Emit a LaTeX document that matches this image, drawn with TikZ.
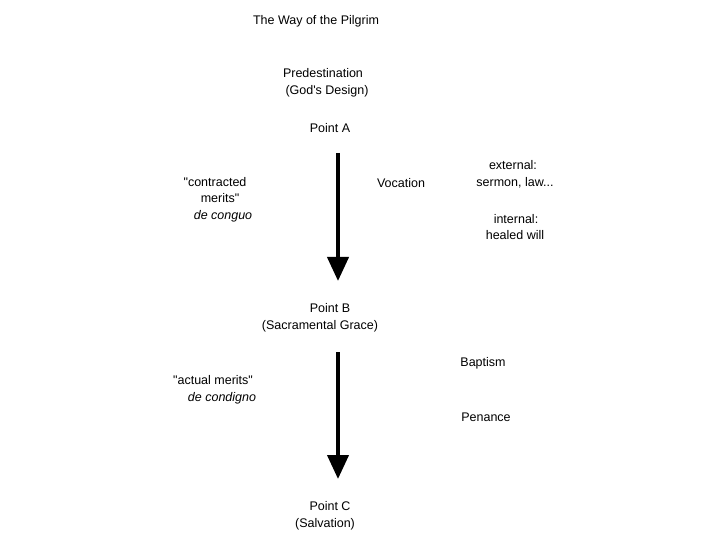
\documentclass[tikz,border=0pt]{standalone}
\usepackage{fontspec}
\setmainfont{Liberation Sans}[Ligatures=TeXOff]
\usetikzlibrary{arrows.meta}
\begin{document}
\begin{tikzpicture}[x=1bp,y=-1bp,
  lbl/.style={inner sep=0pt,anchor=base,font=\fontsize{12.5bp}{17bp}\selectfont},
  flow/.style={line width=4bp,-{Triangle[width=21bp,length=24bp]}}]
\useasboundingbox (0,0) rectangle (720,540);
\node[lbl] (title) at (316,24.5) {The Way of the Pilgrim};
\node[lbl] (pred) at (323,77.5) {Predestination};
\node[lbl] (gods) at (327,94.5) {(God's Design)};
\node[lbl] (ptA) at (330,132.5) {Point A};
\node[lbl] (contr) at (215,186.5) {"contracted};
\node[lbl] (merits) at (220,202.5) {merits"};
\node[lbl] (conguo) at (223,219.5) {\itshape de conguo};
\node[lbl] (voc) at (401,187.5) {Vocation};
\node[lbl] (ext) at (513,169.5) {external:};
\node[lbl] (serm) at (515,186.5) {sermon, law...};
\node[lbl] (int) at (516,224) {internal:};
\node[lbl] (heal) at (515,239.5) {healed will};
\node[lbl] (ptB) at (330,312.5) {Point B};
\node[lbl] (sacr) at (320,329.5) {(Sacramental Grace)};
\node[lbl] (bapt) at (483,366.5) {Baptism};
\node[lbl] (actual) at (213,384.5) {"actual merits"};
\node[lbl] (condig) at (222,401.5) {\itshape de condigno};
\node[lbl] (pen) at (486,421.5) {Penance};
\node[lbl] (ptC) at (330,510.5) {Point C};
\node[lbl] (salv) at (325,527.5) {(Salvation)};
\coordinate (s1) at (338,153);
\coordinate (e1) at (338,281);
\coordinate (s2) at (338,352);
\coordinate (e2) at (338,479);
\draw[flow] (s1) -- (e1);
\draw[flow] (s2) -- (e2);
\end{tikzpicture}
\end{document}
